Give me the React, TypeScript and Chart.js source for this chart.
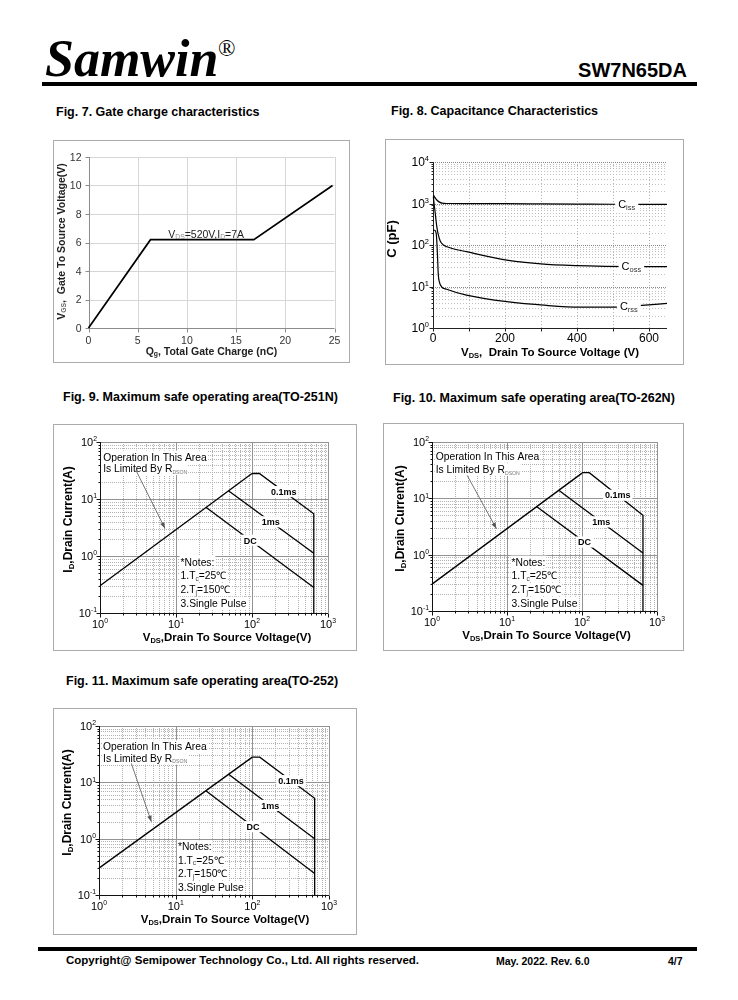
import React, { useEffect, useRef } from "react";
import { Chart, registerables } from "chart.js";

Chart.register(...registerables);

const SANS = "'Liberation Sans', Arial, Helvetica, sans-serif";
const SERIF = "'Liberation Serif', 'Times New Roman', Times, serif";

/* ---------------- Fig. 7  Gate charge ---------------- */
const GC_QG = [0, 6.3, 16.8, 24.8];
const GC_VGS = [0, 6.2, 6.2, 10];
const GC_X_TICKS = [0, 5, 10, 15, 20, 25];
const GC_Y_TICKS = [0, 2, 4, 6, 8, 10, 12];
const GC_NOTE_AT = [8.1, 6.6];

/* ---------------- Fig. 8  Capacitance ---------------- */
const CAP_X_TICKS = [0, 200, 400, 600];
const CAP_X_GRID = [100, 200, 300, 400, 500, 600];
const CAP_Y_EXP = [0, 1, 2, 3, 4];
const CISS_V = [1, 4, 8, 12, 18, 25, 40, 100, 200, 300, 400, 500, 650];
const CISS_C = [1600, 1450, 1300, 1180, 1080, 1020, 1000, 995, 990, 980, 970, 960, 950];
const COSS_V = [1, 3, 5.6, 8, 10, 12.5, 15, 20, 29, 47, 93, 205, 316, 455, 650];
const COSS_C = [1450, 1000, 650, 420, 300, 220, 173, 125, 100, 86, 69, 43, 34, 31, 30];
const CRSS_V = [1, 5, 8.3, 10, 12, 14.8, 17.6, 24, 38, 93, 205, 316, 409, 519, 580, 650];
const CRSS_C = [230, 225, 200, 150, 69, 19, 13, 9.8, 8.6, 6.2, 4.3, 3.5, 3.2, 3.2, 3.5, 3.9];
const CAP_LABEL_V = [538, 551, 544];

/* ---------------- Fig. 9-11  Safe operating area ---------------- */
const SOA_X_EXP = [0, 1, 2, 3];
const SOA_Y_EXP = [-1, 0, 1, 2];
const RDS_V = [1, 100];
const RDS_I = [0.3, 28];
const P01_V = [100, 125, 650, 650];
const P1_V = [49, 650];
const PDC_V = [25, 650];

const F9_P01_I = [28, 28, 5.5, 0.1];
const F9_P1_I = [13.9, 1.12];
const F9_PDC_I = [7.1, 0.28];
const F9_LABEL_V = [262, 177, 95];

const F10_P01_I = [28.5, 28.5, 5.0, 0.1];
const F10_P1_I = [13.9, 1.07];
const F10_PDC_I = [7.1, 0.285];
const F10_LABEL_V = [299, 180, 108];

const F11_P01_I = [28, 28, 5.2, 0.1];
const F11_P1_I = [13.9, 1.0];
const F11_PDC_I = [7.0, 0.24];
const F11_LABEL_V = [320, 171, 102];

/* ---------------- drawing helpers ---------------- */
type Seg = [string, string?, number?];
interface RichOpts {
  size: number;
  weight?: string;
  align?: "left" | "center" | "right";
  color?: string;
  subColor?: string;
  scale?: number;
  bg?: string;
  pad?: number;
}

function setFont(ctx: CanvasRenderingContext2D, size: number, weight?: string) {
  ctx.font = `${weight || "normal"} ${size}px ${SANS}`;
}
function segSize(s: Seg, o: RichOpts) {
  return s[1] ? o.size * (s[2] ?? o.scale ?? 0.65) : o.size;
}
function richWidth(ctx: CanvasRenderingContext2D, segs: Seg[], o: RichOpts) {
  let w = 0;
  for (const s of segs) {
    setFont(ctx, segSize(s, o), o.weight);
    w += ctx.measureText(s[0]).width;
  }
  return w;
}
function drawRich(ctx: CanvasRenderingContext2D, segs: Seg[], x: number, y: number, o: RichOpts) {
  const w = richWidth(ctx, segs, o);
  let x0 = o.align === "center" ? x - w / 2 : o.align === "right" ? x - w : x;
  const base = y + o.size * 0.36;
  if (o.bg) {
    const p = o.pad ?? 1;
    ctx.fillStyle = o.bg;
    ctx.fillRect(x0 - p, y - o.size * 0.62, w + 2 * p, o.size * 1.24);
  }
  ctx.textAlign = "left";
  ctx.textBaseline = "alphabetic";
  for (const s of segs) {
    const sz = segSize(s, o);
    setFont(ctx, sz, o.weight);
    ctx.fillStyle = s[1] ? o.subColor ?? o.color ?? "#000" : o.color ?? "#000";
    const by = s[1] === "s" ? base + o.size * 0.14 : s[1] === "p" ? base - o.size * 0.42 : base;
    ctx.fillText(s[0], x0, by);
    x0 += ctx.measureText(s[0]).width;
  }
}
function drawRichRot(ctx: CanvasRenderingContext2D, segs: Seg[], x: number, y: number, o: RichOpts) {
  ctx.save();
  ctx.translate(x, y);
  ctx.rotate(-Math.PI / 2);
  drawRich(ctx, segs, 0, 0, { ...o, align: "center" });
  ctx.restore();
}
function line(ctx: CanvasRenderingContext2D, x1: number, y1: number, x2: number, y2: number) {
  ctx.beginPath();
  ctx.moveTo(x1, y1);
  ctx.lineTo(x2, y2);
  ctx.stroke();
}
const cr = (v: number) => Math.round(v) + 0.5;

function logValues(minExp: number, maxExp: number) {
  const out: { v: number; major: boolean }[] = [];
  for (let e = minExp; e < maxExp; e++) {
    for (let m = 1; m <= 9; m++) out.push({ v: m * Math.pow(10, e), major: m === 1 });
  }
  out.push({ v: Math.pow(10, maxExp), major: true });
  return out;
}
function interp(xs: number[], ys: number[], v: number, logX: boolean) {
  const f = (q: number) => (logX ? Math.log10(q) : q);
  for (let i = 0; i < xs.length - 1; i++) {
    const x0 = xs[i], x1 = xs[i + 1];
    if (x1 === x0) continue;
    if (v >= x0 && v <= x1) {
      const t = (f(v) - f(x0)) / (f(x1) - f(x0));
      return Math.pow(10, Math.log10(ys[i]) + t * (Math.log10(ys[i + 1]) - Math.log10(ys[i])));
    }
  }
  return ys[ys.length - 1];
}
const zip = (xs: number[], ys: number[]) => xs.map((x, i) => ({ x, y: ys[i] }));
const lineDs = (xs: number[], ys: number[], w: number, extra: any = {}) => ({
  data: zip(xs, ys),
  showLine: true,
  borderColor: "#000",
  borderWidth: w,
  pointRadius: 0,
  pointHoverRadius: 0,
  fill: false,
  tension: 0,
  clip: 6,
  ...extra,
});
const baseOpts = (pad: any, scales: any) => ({
  animation: false,
  responsive: false,
  events: [],
  layout: { padding: pad },
  plugins: { legend: { display: false }, tooltip: { enabled: false } },
  scales,
});

/* ---------------- Fig. 7 decor ---------------- */
const gcDecor = {
  id: "gcDecor",
  beforeDatasetsDraw(chart: any) {
    const { ctx, chartArea: a } = chart;
    const x = chart.scales.x, y = chart.scales.y;
    ctx.save();
    ctx.lineWidth = 1;
    ctx.strokeStyle = "#d6d6d6";
    GC_X_TICKS.forEach((v) => {
      if (v > 0) {
        const px = cr(x.getPixelForValue(v));
        line(ctx, px, a.top, px, a.bottom);
      }
    });
    GC_Y_TICKS.forEach((v) => {
      if (v > 0) {
        const py = cr(y.getPixelForValue(v));
        line(ctx, a.left, py, a.right, py);
      }
    });
    ctx.strokeStyle = "#8c8c8c";
    const L = cr(a.left), B = cr(a.bottom);
    line(ctx, L, a.top, L, B);
    line(ctx, L, B, a.right, B);
    GC_Y_TICKS.forEach((v) => {
      const py = cr(y.getPixelForValue(v));
      line(ctx, L - 4, py, L, py);
    });
    GC_X_TICKS.forEach((v) => {
      const px = cr(x.getPixelForValue(v));
      line(ctx, px, B, px, B + 4);
    });
    GC_Y_TICKS.forEach((v) =>
      drawRich(ctx, [[String(v)]], a.left - 7, y.getPixelForValue(v), { size: 10.5, align: "right", color: "#333" })
    );
    GC_X_TICKS.forEach((v) =>
      drawRich(ctx, [[String(v)]], x.getPixelForValue(v), a.bottom + 12, { size: 10.5, align: "center", color: "#333" })
    );
    drawRichRot(ctx, [["V"], ["GS", "s"], [",  Gate To Source Voltage(V)"]], a.left - 27.5, (a.top + a.bottom) / 2 - 1, {
      size: 10.5,
      weight: "bold",
      color: "#222",
      subColor: "#666",
    });
    drawRich(ctx, [["Q"], ["g", "s"], [", Total Gate Charge (nC)"]], (a.left + a.right) / 2, a.bottom + 23, {
      size: 10.5,
      weight: "bold",
      align: "center",
      color: "#222",
    });
    ctx.restore();
  },
  afterDatasetsDraw(chart: any) {
    const { ctx } = chart;
    const x = chart.scales.x, y = chart.scales.y;
    ctx.save();
    drawRich(
      ctx,
      [["V"], ["DS", "s"], ["=520V,I"], ["D", "s"], ["=7A"]],
      x.getPixelForValue(GC_NOTE_AT[0]),
      y.getPixelForValue(GC_NOTE_AT[1]),
      { size: 10.5, color: "#222", subColor: "#888" }
    );
    ctx.restore();
  },
};

/* ---------------- Fig. 8 decor ---------------- */
const capDecor = {
  id: "capDecor",
  beforeDatasetsDraw(chart: any) {
    const { ctx, chartArea: a } = chart;
    const x = chart.scales.x, y = chart.scales.y;
    ctx.save();
    ctx.lineWidth = 1;
    const vals = logValues(0, 4);
    ctx.strokeStyle = "#c2c2c2";
    ctx.setLineDash([1, 2]);
    vals.forEach((t) => {
      if (!t.major) {
        const py = cr(y.getPixelForValue(t.v));
        line(ctx, a.left, py, a.right, py);
      }
    });
    ctx.strokeStyle = "#b4b4b4";
    CAP_X_GRID.forEach((v) => {
      const px = cr(x.getPixelForValue(v));
      line(ctx, px, a.top, px, a.bottom);
    });
    ctx.strokeStyle = "#8a8a8a";
    ctx.setLineDash([1, 1]);
    vals.forEach((t) => {
      if (t.major && t.v > 1) {
        const py = cr(y.getPixelForValue(t.v));
        line(ctx, a.left, py, a.right, py);
      }
    });
    ctx.setLineDash([]);
    ctx.strokeStyle = "#222";
    const L = cr(a.left), B = cr(a.bottom);
    line(ctx, L, a.top, L, B);
    line(ctx, L, B, a.right, B);
    vals.forEach((t) => {
      const py = cr(y.getPixelForValue(t.v));
      line(ctx, L - (t.major ? 4 : 2), py, L, py);
    });
    [0, ...CAP_X_GRID].forEach((v) => {
      const px = cr(x.getPixelForValue(v));
      line(ctx, px, B, px, B + 3);
    });
    CAP_Y_EXP.forEach((e) =>
      drawRich(ctx, [["10"], [String(e), "p"]], a.left - 4, y.getPixelForValue(Math.pow(10, e)), {
        size: 12,
        align: "right",
        scale: 0.62,
      })
    );
    CAP_X_TICKS.forEach((v) =>
      drawRich(ctx, [[String(v)]], x.getPixelForValue(v), a.bottom + 10, { size: 12, align: "center" })
    );
    drawRichRot(ctx, [["C (pF)"]], a.left - 42, (a.top + a.bottom) / 2 - 6, { size: 13, weight: "bold" });
    drawRich(ctx, [["V"], ["DS", "s"], [",  Drain To Source Voltage (V)"]], (a.left + a.right) / 2, a.bottom + 24, {
      size: 11.5,
      weight: "bold",
      align: "center",
    });
    ctx.restore();
  },
  afterDatasetsDraw(chart: any) {
    const { ctx } = chart;
    const x = chart.scales.x, y = chart.scales.y;
    ctx.save();
    const items: [string, number, number[], number[]][] = [
      ["iss", CAP_LABEL_V[0], CISS_V, CISS_C],
      ["oss", CAP_LABEL_V[1], COSS_V, COSS_C],
      ["rss", CAP_LABEL_V[2], CRSS_V, CRSS_C],
    ];
    items.forEach(([sub, v, xs, ys]) => {
      const c = interp(xs, ys, v, false);
      drawRich(ctx, [["C"], [sub, "s"]], x.getPixelForValue(v), y.getPixelForValue(c), {
        size: 11,
        align: "center",
        bg: "#fff",
        pad: 3,
        scale: 0.68,
        subColor: "#333",
      });
    });
    ctx.restore();
  },
};

/* ---------------- SOA decor factory ---------------- */
interface SoaCfg {
  p01I: number[];
  p1I: number[];
  dcI: number[];
  labelV: number[];
  opAt: number[];
  opGap: number;
  arrow: number[];
  notesAt: number[];
  notesGap: number;
  xTitleShift: number;
}
function soaDecor(id: string, c: SoaCfg) {
  return {
    id,
    beforeDatasetsDraw(chart: any) {
      const { ctx, chartArea: a } = chart;
      const x = chart.scales.x, y = chart.scales.y;
      ctx.save();
      ctx.lineWidth = 1;
      const xv = logValues(0, 3);
      const yv = logValues(-1, 2);
      ctx.strokeStyle = "#b2b2b2";
      ctx.setLineDash([1, 1]);
      xv.forEach((t) => {
        if (!t.major) {
          const px = cr(x.getPixelForValue(t.v));
          line(ctx, px, a.top, px, a.bottom);
        }
      });
      yv.forEach((t) => {
        if (!t.major) {
          const py = cr(y.getPixelForValue(t.v));
          line(ctx, a.left, py, a.right, py);
        }
      });
      ctx.setLineDash([]);
      ctx.strokeStyle = "#939393";
      xv.forEach((t) => {
        if (t.major && t.v > 1) {
          const px = cr(x.getPixelForValue(t.v));
          line(ctx, px, a.top, px, a.bottom);
        }
      });
      yv.forEach((t) => {
        if (t.major && t.v > 0.11) {
          const py = cr(y.getPixelForValue(t.v));
          line(ctx, a.left, py, a.right, py);
        }
      });
      ctx.strokeStyle = "#111";
      const L = cr(a.left), B = cr(a.bottom);
      line(ctx, L, a.top, L, B);
      line(ctx, L, B, a.right, B);
      yv.forEach((t) => {
        const py = cr(y.getPixelForValue(t.v));
        line(ctx, L - (t.major ? 4 : 2), py, L, py);
      });
      xv.forEach((t) => {
        const px = cr(x.getPixelForValue(t.v));
        line(ctx, px, B, px, B + (t.major ? 4 : 2));
      });
      SOA_Y_EXP.forEach((e) =>
        drawRich(ctx, [["10"], [String(e), "p"]], a.left - 3, y.getPixelForValue(Math.pow(10, e)), {
          size: 11,
          align: "right",
          scale: 0.62,
        })
      );
      SOA_X_EXP.forEach((e) =>
        drawRich(ctx, [["10"], [String(e), "p"]], x.getPixelForValue(Math.pow(10, e)), a.bottom + 11, {
          size: 11,
          align: "center",
          scale: 0.62,
        })
      );
      drawRichRot(ctx, [["I"], ["D", "s"], [",Drain Current(A)"]], a.left - 32, (a.top + a.bottom) / 2 - 8, {
        size: 12,
        weight: "bold",
      });
      drawRich(
        ctx,
        [["V"], ["DS", "s"], [",Drain To Source Voltage(V)"]],
        (a.left + a.right) / 2 + c.xTitleShift,
        a.bottom + 24,
        { size: 11.5, weight: "bold", align: "center" }
      );
      ctx.restore();
    },
    afterDatasetsDraw(chart: any) {
      const { ctx } = chart;
      const x = chart.scales.x, y = chart.scales.y;
      ctx.save();
      const lab: [string, number, number[], number[]][] = [
        ["0.1ms", c.labelV[0], P01_V, c.p01I],
        ["1ms", c.labelV[1], P1_V, c.p1I],
        ["DC", c.labelV[2], PDC_V, c.dcI],
      ];
      lab.forEach(([t, v, xs, ys]) => {
        const i = interp(xs, ys, v, true);
        drawRich(ctx, [[t]], x.getPixelForValue(v), y.getPixelForValue(i), {
          size: 9,
          weight: "bold",
          align: "center",
          bg: "#fff",
          pad: 2,
        });
      });
      // operation note
      const ox = x.getPixelForValue(c.opAt[0]);
      const oy = y.getPixelForValue(c.opAt[1]);
      drawRich(ctx, [["Operation In This Area"]], ox, oy, { size: 10.3, bg: "#fff", pad: 1 });
      drawRich(ctx, [["Is Limited By R"], ["DSON", "s", 0.5]], ox, oy + c.opGap, {
        size: 10.3,
        bg: "#fff",
        pad: 1,
        subColor: "#777",
      });
      // arrow
      const x1 = x.getPixelForValue(c.arrow[0]), y1 = y.getPixelForValue(c.arrow[1]);
      const x2 = x.getPixelForValue(c.arrow[2]), y2 = y.getPixelForValue(c.arrow[3]);
      ctx.strokeStyle = "#555";
      ctx.fillStyle = "#555";
      ctx.lineWidth = 0.8;
      line(ctx, x1, y1, x2, y2);
      const ang = Math.atan2(y2 - y1, x2 - x1);
      ctx.beginPath();
      ctx.moveTo(x2, y2);
      ctx.lineTo(x2 - 6 * Math.cos(ang) + 2.3 * Math.sin(ang), y2 - 6 * Math.sin(ang) - 2.3 * Math.cos(ang));
      ctx.lineTo(x2 - 6 * Math.cos(ang) - 2.3 * Math.sin(ang), y2 - 6 * Math.sin(ang) + 2.3 * Math.cos(ang));
      ctx.closePath();
      ctx.fill();
      // notes
      const nx = x.getPixelForValue(c.notesAt[0]);
      const ny = y.getPixelForValue(c.notesAt[1]);
      const notes: Seg[][] = [
        [["*Notes:"]],
        [["1.T"], ["c", "s"], ["=25℃"]],
        [["2.T"], ["j", "s"], ["=150℃"]],
        [["3.Single Pulse"]],
      ];
      notes.forEach((segs, k) =>
        drawRich(ctx, segs, nx, ny + k * c.notesGap, { size: 10.3, bg: "#fff", pad: 1, subColor: "#444" })
      );
      ctx.restore();
    },
  };
}

/* ---------------- builders ---------------- */
const buildGC = (pad: any) => ({
  type: "scatter",
  data: { datasets: [lineDs(GC_QG, GC_VGS, 1.7)] },
  options: baseOpts(pad, {
    x: { type: "linear", min: 0, max: 25, display: false },
    y: { type: "linear", min: 0, max: 12, display: false },
  }),
  plugins: [gcDecor],
});

const buildCap = (pad: any) => ({
  type: "scatter",
  data: {
    datasets: [
      lineDs(CISS_V, CISS_C, 1.2, { cubicInterpolationMode: "monotone" }),
      lineDs(COSS_V, COSS_C, 1.2, { cubicInterpolationMode: "monotone" }),
      lineDs(CRSS_V, CRSS_C, 1.2, { cubicInterpolationMode: "monotone" }),
    ],
  },
  options: baseOpts(pad, {
    x: { type: "linear", min: 0, max: 650, display: false },
    y: { type: "logarithmic", min: 1, max: 10000, display: false },
  }),
  plugins: [capDecor],
});

const buildSoa = (id: string, c: SoaCfg) => (pad: any) => ({
  type: "scatter",
  data: {
    datasets: [
      lineDs(RDS_V, RDS_I, 1.3),
      lineDs(P01_V, c.p01I, 1.3),
      lineDs(P1_V, c.p1I, 1.3),
      lineDs(PDC_V, c.dcI, 1.3),
    ],
  },
  options: baseOpts(pad, {
    x: { type: "logarithmic", min: 1, max: 1000, display: false },
    y: { type: "logarithmic", min: 0.1, max: 100, display: false },
  }),
  plugins: [soaDecor(id, c)],
});

const build9 = buildSoa("soa9", {
  p01I: F9_P01_I,
  p1I: F9_P1_I,
  dcI: F9_PDC_I,
  labelV: F9_LABEL_V,
  opAt: [1.1, 54.6],
  opGap: 11.6,
  arrow: [2.97, 31.9, 7.15, 3.06],
  notesAt: [11.5, 0.785],
  notesGap: 13.7,
  xTitleShift: 13,
});
const build10 = buildSoa("soa10", {
  p01I: F10_P01_I,
  p1I: F10_P1_I,
  dcI: F10_PDC_I,
  labelV: F10_LABEL_V,
  opAt: [1.12, 55.7],
  opGap: 13.3,
  arrow: [2.94, 25.6, 7.22, 2.9],
  notesAt: [11.5, 0.74],
  notesGap: 13.7,
  xTitleShift: 2,
});
const build11 = buildSoa("soa11", {
  p01I: F11_P01_I,
  p1I: F11_P1_I,
  dcI: F11_PDC_I,
  labelV: F11_LABEL_V,
  opAt: [1.13, 42.9],
  opGap: 11.6,
  arrow: [2.64, 21.7, 4.82, 2.0],
  notesAt: [10.7, 0.72],
  notesGap: 13.5,
  xTitleShift: 11,
});

/* ---------------- components ---------------- */
type Box = { l: number; t: number; w: number; h: number };
type Plot = { l: number; t: number; r: number; b: number };

function Fig({ box, plot, build }: { box: Box; plot: Plot; build: (pad: any) => any }) {
  const ref = useRef<HTMLCanvasElement>(null);
  useEffect(() => {
    const pad = {
      left: plot.l - box.l - 1,
      top: plot.t - box.t - 1,
      right: box.l + box.w - 1 - plot.r,
      bottom: box.t + box.h - 1 - plot.b,
    };
    const chart = new Chart(ref.current as HTMLCanvasElement, build(pad));
    return () => chart.destroy();
  }, []);
  return (
    <div
      style={{
        position: "absolute",
        left: box.l,
        top: box.t,
        width: box.w,
        height: box.h,
        border: "1px solid #ababab",
        boxSizing: "border-box",
        background: "#fff",
      }}
    >
      <canvas
        ref={ref}
        width={box.w - 2}
        height={box.h - 2}
        style={{ display: "block", width: box.w - 2, height: box.h - 2 }}
      />
    </div>
  );
}

function T({ x, y, size, bold, children, right }: { x: number; y: number; size: number; bold?: boolean; children: any; right?: boolean }) {
  const style: any = {
    position: "absolute",
    top: y - 0.4865 * size,
    fontSize: size,
    lineHeight: size + "px",
    fontWeight: bold ? "bold" : "normal",
    whiteSpace: "nowrap",
    fontFamily: SANS,
  };
  if (right) style.right = 738 - x;
  else style.left = x;
  return <div style={style}>{children}</div>;
}

export default function App() {
  return (
    <div
      style={{
        position: "absolute",
        left: 0,
        top: 0,
        width: 738,
        height: 1000,
        background: "#fff",
        overflow: "hidden",
        color: "#000",
        fontFamily: SANS,
      }}
    >
      {/* header */}
      <div
        style={{
          position: "absolute",
          left: 45,
          top: 32.5,
          fontFamily: SERIF,
          fontStyle: "italic",
          fontWeight: "bold",
          fontSize: 52,
          lineHeight: "52px",
          whiteSpace: "nowrap",
        }}
      >
        Samwin
      </div>
      <div
        style={{
          position: "absolute",
          left: 218,
          top: 37,
          fontFamily: SERIF,
          fontSize: 23,
          lineHeight: "23px",
        }}
      >
        ®
      </div>
      <div
        style={{
          position: "absolute",
          right: 51,
          top: 60,
          fontSize: 20,
          lineHeight: "20px",
          fontWeight: "bold",
          fontFamily: SANS,
        }}
      >
        SW7N65DA
      </div>
      <div style={{ position: "absolute", left: 42, top: 82, width: 655, height: 4, background: "#000" }} />

      {/* figure titles */}
      <T x={56} y={112} size={12.5} bold>
        Fig. 7. Gate charge characteristics
      </T>
      <T x={391} y={111} size={12.5} bold>
        Fig. 8. Capacitance Characteristics
      </T>
      <T x={63} y={397} size={12.5} bold>
        Fig. 9. Maximum safe operating area(TO-251N)
      </T>
      <T x={393} y={398} size={12.5} bold>
        Fig. 10. Maximum safe operating area(TO-262N)
      </T>
      <T x={66} y={681} size={12.5} bold>
        Fig. 11. Maximum safe operating area(TO-252)
      </T>

      <Fig box={{ l: 53, t: 140, w: 297, h: 223 }} plot={{ l: 88.5, t: 157, r: 334.5, b: 328 }} build={buildGC} />
      <Fig box={{ l: 385, t: 139, w: 299, h: 226 }} plot={{ l: 433, t: 162, r: 667, b: 328 }} build={buildCap} />
      <Fig box={{ l: 53, t: 424, w: 304, h: 227 }} plot={{ l: 100, t: 442, r: 328, b: 613 }} build={build9} />
      <Fig box={{ l: 383, t: 423, w: 301, h: 228 }} plot={{ l: 432, t: 442, r: 657, b: 611 }} build={build10} />
      <Fig box={{ l: 53, t: 708, w: 304, h: 227 }} plot={{ l: 99, t: 726, r: 329, b: 895 }} build={build11} />

      {/* footer */}
      <div style={{ position: "absolute", left: 38, top: 947, width: 659, height: 4, background: "#000" }} />
      <T x={66} y={961} size={11.5} bold>
        Copyright@ Semipower Technology Co., Ltd. All rights reserved.
      </T>
      <T x={496} y={961} size={10.5} bold>
        May. 2022. Rev. 6.0
      </T>
      <T x={668} y={961} size={10.5} bold>
        4/7
      </T>
    </div>
  );
}
